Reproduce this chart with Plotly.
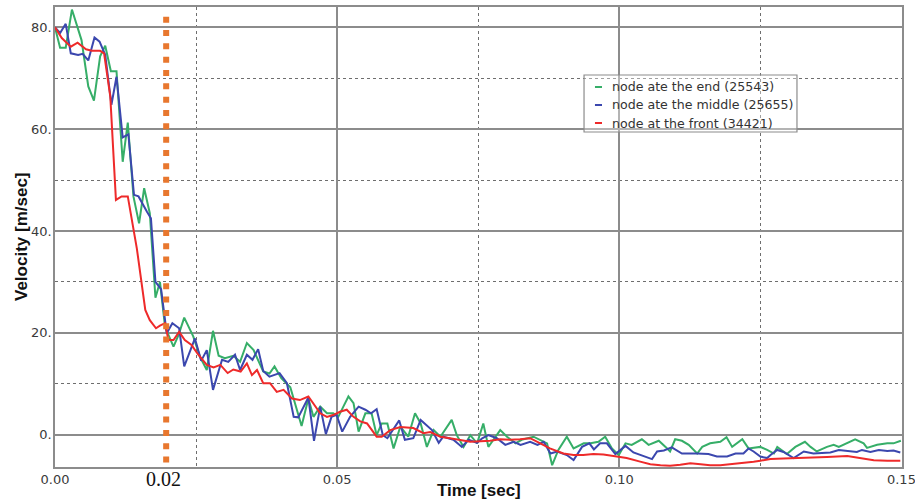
import plotly.graph_objects as go

# ---------------- data ----------------
t_end = [0.0000, 0.0009, 0.0019, 0.0030, 0.0047, 0.0059, 0.0069, 0.0080, 0.0089, 0.0099,
         0.0109, 0.0120, 0.0129, 0.0139, 0.0149, 0.0158, 0.0168, 0.0178, 0.0186, 0.0195,
         0.0201, 0.0210, 0.0219, 0.0229, 0.0245, 0.0257, 0.0269, 0.0280, 0.0290, 0.0301,
         0.0316, 0.0328, 0.0340, 0.0352, 0.0369, 0.0380, 0.0389, 0.0401, 0.0417, 0.0437,
         0.0449, 0.0458, 0.0470, 0.0482, 0.0493, 0.0502, 0.0511, 0.0520, 0.0529, 0.0538,
         0.0550, 0.0561, 0.0570, 0.0579, 0.0589, 0.0600, 0.0612, 0.0626, 0.0638, 0.0648,
         0.0659, 0.0671, 0.0683, 0.0703, 0.0712, 0.0724, 0.0736, 0.0748, 0.0759, 0.0768,
         0.0777, 0.0789, 0.0801, 0.0816, 0.0827, 0.0848, 0.0872, 0.0881, 0.0892, 0.0907,
         0.0919, 0.0937, 0.0949, 0.0963, 0.0975, 0.0987, 0.0999, 0.1011, 0.1022, 0.1040,
         0.1052, 0.1070, 0.1082, 0.1090, 0.1099, 0.1111, 0.1123, 0.1138, 0.1147, 0.1161,
         0.1179, 0.1190, 0.1200, 0.1218, 0.1229, 0.1250, 0.1262, 0.1274, 0.1280, 0.1288,
         0.1297, 0.1312, 0.1329, 0.1339, 0.1350, 0.1368, 0.1380, 0.1389, 0.1404, 0.1418,
         0.1433, 0.1439, 0.1457, 0.1475, 0.1486, 0.1499]
v_end = [80.0, 76.0, 76.0, 83.5, 77.5, 68.4, 65.6, 74.3, 76.4, 71.4,
         71.4, 53.6, 61.3, 46.8, 41.5, 48.4, 43.5, 26.9, 30.0, 21.2,
         19.6, 17.3, 19.6, 23.0, 19.3, 15.3, 12.7, 20.4, 15.5, 15.0,
         15.5, 14.3, 18.0, 16.6, 12.4, 12.0, 13.4, 11.1, 9.3, 1.7,
         7.1, 3.5, 5.5, 4.2, 4.2, 3.5, 5.5, 7.5, 6.2, 0.6,
         4.2, 4.2, -0.1, 2.2, 2.2, -2.7, 1.6, -0.4, 4.2, 2.2,
         -2.4, 0.9, -0.4, 2.9, -0.1, -2.4, -0.1, -1.7, 2.2, -2.4,
         -1.0, 0.9, -0.4, -1.7, -1.0, -0.4, -1.7, -6.0, -3.0, -0.4,
         -2.7, -1.7, -1.7, -1.4, -0.4, -2.7, -4.0, -1.7, -2.0, -0.9,
         -2.0, -1.2, -2.4, -3.3, -0.9, -1.2, -2.0, -3.7, -2.4, -1.7,
         -1.4, -0.5, -2.4, -0.9, -2.7, -2.4, -3.0, -3.7, -2.4, -3.0,
         -3.8, -2.4, -1.4, -2.4, -3.3, -2.4, -2.0, -2.4, -1.6, -0.9,
         -1.7, -2.6, -2.0, -1.7, -1.7, -1.2]

t_middle = [0.0000, 0.0009, 0.0019, 0.0028, 0.0041, 0.0049, 0.0059, 0.0070, 0.0079, 0.0089,
            0.0100, 0.0109, 0.0120, 0.0130, 0.0140, 0.0148, 0.0163, 0.0170, 0.0178, 0.0188,
            0.0198, 0.0208, 0.0220, 0.0229, 0.0248, 0.0259, 0.0269, 0.0280, 0.0296, 0.0307,
            0.0319, 0.0328, 0.0340, 0.0350, 0.0360, 0.0369, 0.0380, 0.0398, 0.0411, 0.0423,
            0.0431, 0.0449, 0.0459, 0.0470, 0.0480, 0.0490, 0.0499, 0.0509, 0.0523, 0.0538,
            0.0550, 0.0560, 0.0570, 0.0581, 0.0589, 0.0599, 0.0610, 0.0620, 0.0635, 0.0648,
            0.0659, 0.0668, 0.0680, 0.0688, 0.0706, 0.0721, 0.0733, 0.0748, 0.0757, 0.0768,
            0.0783, 0.0798, 0.0813, 0.0825, 0.0842, 0.0855, 0.0866, 0.0878, 0.0890, 0.0907,
            0.0919, 0.0934, 0.0947, 0.0955, 0.0966, 0.0978, 0.0993, 0.1011, 0.1025, 0.1046,
            0.1058, 0.1067, 0.1079, 0.1093, 0.1111, 0.1138, 0.1158, 0.1173, 0.1191, 0.1206,
            0.1220, 0.1229, 0.1238, 0.1250, 0.1262, 0.1268, 0.1280, 0.1291, 0.1309, 0.1327,
            0.1344, 0.1359, 0.1374, 0.1389, 0.1404, 0.1421, 0.1430, 0.1445, 0.1460, 0.1475,
            0.1486, 0.1498]
v_middle = [80.0, 78.9, 80.7, 74.9, 74.6, 74.8, 73.5, 78.0, 77.2, 74.6,
            64.8, 70.3, 58.4, 59.0, 47.1, 46.8, 43.8, 42.5, 30.0, 28.6,
            19.9, 21.9, 20.9, 13.4, 18.9, 14.5, 16.6, 8.8, 14.7, 14.3,
            15.7, 12.7, 15.7, 14.7, 16.8, 12.5, 11.4, 12.1, 10.1, 3.5,
            3.4, 7.3, -1.2, 5.5, 0.1, 3.5, 3.9, 0.6, 3.5, 5.5,
            4.9, 4.2, 5.0, -0.1, -0.7, 0.9, 2.8, -1.0, -0.7, 2.9,
            1.9, 0.9, -1.6, -0.4, -1.0, -2.4, -1.0, -1.6, -0.7, -0.1,
            -0.7, -2.0, -1.4, -2.0, -1.4, -2.0, -1.4, -3.7, -3.3, -4.0,
            -5.0, -2.4, -1.7, -2.9, -1.7, -1.7, -3.8, -2.2, -3.5, -4.3,
            -4.8, -3.3, -3.1, -2.5, -3.7, -3.7, -3.8, -4.3, -4.3, -3.7,
            -3.7, -2.7, -3.3, -4.3, -4.6, -4.0, -3.0, -3.4, -4.6, -3.3,
            -3.7, -3.6, -3.5, -3.0, -3.2, -3.4, -3.0, -3.4, -3.0, -3.2,
            -3.1, -3.5]

t_front = [0.0000, 0.0012, 0.0028, 0.0040, 0.0055, 0.0065, 0.0080, 0.0087, 0.0098, 0.0108,
           0.0118, 0.0129, 0.0145, 0.0160, 0.0168, 0.0179, 0.0186, 0.0195, 0.0201, 0.0210,
           0.0220, 0.0230, 0.0242, 0.0254, 0.0269, 0.0281, 0.0293, 0.0306, 0.0316, 0.0329,
           0.0340, 0.0349, 0.0358, 0.0369, 0.0381, 0.0393, 0.0405, 0.0420, 0.0434, 0.0449,
           0.0470, 0.0482, 0.0494, 0.0505, 0.0517, 0.0529, 0.0541, 0.0553, 0.0570, 0.0579,
           0.0594, 0.0612, 0.0635, 0.0653, 0.0665, 0.0683, 0.0700, 0.0718, 0.0736, 0.0754,
           0.0771, 0.0789, 0.0807, 0.0824, 0.0842, 0.0860, 0.0877, 0.0901, 0.0919, 0.0936,
           0.0954, 0.0972, 0.0987, 0.0999, 0.1013, 0.1037, 0.1055, 0.1073, 0.1090, 0.1108,
           0.1126, 0.1144, 0.1161, 0.1179, 0.1197, 0.1220, 0.1238, 0.1250, 0.1268, 0.1291,
           0.1321, 0.1339, 0.1368, 0.1404, 0.1427, 0.1451, 0.1475, 0.1498]
v_front = [80.0, 77.9, 76.2, 77.0, 75.7, 75.4, 75.4, 74.9, 66.4, 46.1,
           46.8, 46.8, 36.6, 24.5, 22.5, 20.9, 21.4, 21.9, 18.6, 18.6,
           20.2, 18.6, 17.6, 15.7, 13.7, 13.2, 13.7, 12.1, 12.8, 12.4,
           14.0, 11.7, 12.7, 10.1, 10.1, 8.4, 8.8, 7.1, 6.8, 7.5,
           4.2, 3.5, 3.9, 4.5, 4.9, 3.5, 2.6, 2.2, -0.4, -0.4,
           0.9, 1.5, 1.3, 0.3, 0.5, -0.4, -0.7, -1.0, -1.4, -1.3,
           -1.2, -0.9, -1.0, -0.9, -0.7, -1.7, -2.7, -3.7, -4.0, -4.0,
           -3.8, -3.9, -4.2, -4.4, -4.6, -5.3, -5.8, -6.0, -6.1, -5.9,
           -5.6, -5.8, -6.0, -6.0, -5.8, -5.6, -5.3, -5.1, -4.8, -4.7,
           -4.6, -4.6, -4.4, -4.2, -4.6, -5.0, -5.1, -5.1]

series_names = ["node ate the end (25543)", "node ate the middle (25655)", "node at the front (34421)"]
series_colors = ["#36AE68", "#3B47AE", "#EE2A2A"]

x_tick_vals = [0.0, 0.05, 0.10, 0.15]
x_tick_text = ["0.00", "0.05", "0.10", "0.15"]
x_minor_vals = [0.025, 0.075, 0.125]
y_tick_vals = [0, 20, 40, 60, 80]
y_tick_text = ["0.", "20.", "40.", "60.", "80."]
y_minor_vals = [10, 30, 50, 70]

marker_time = 0.0197          # orange dotted reference line, labelled 0.02
marker_label = "0.02"
marker_span = (-5.5, 82.1)

x_range = [0.0, 0.1501]
y_range = [-6.35, 84.0]

# ---------------- figure ----------------
fig = go.Figure()
for t, v, name, color in zip([t_end, t_middle, t_front], [v_end, v_middle, v_front],
                             series_names, series_colors):
    fig.add_trace(go.Scatter(x=t, y=v, mode="lines", name=name,
                             line=dict(color=color, width=2), showlegend=False))

fig.add_trace(go.Scatter(x=[marker_time, marker_time], y=[marker_span[1], marker_span[0]],
                         mode="lines", showlegend=False,
                         line=dict(color="#E8772E", width=6, dash="6px,7.33px")))

grid_major = "#8C8C8C"
grid_minor = "#6E6E6E"
tick_font = dict(family="DejaVu Sans", size=13, color="#3A3A3A")

fig.update_xaxes(range=x_range, tickmode="array", tickvals=x_tick_vals, ticktext=x_tick_text,
                 showgrid=True, gridcolor=grid_major, gridwidth=1.5,
                 minor=dict(tickmode="array", tickvals=x_minor_vals, showgrid=True,
                            griddash="dot", gridcolor=grid_minor, gridwidth=1),
                 showline=True, mirror=True, linecolor=grid_major, linewidth=1.5,
                 zeroline=False, ticks="", tickfont=tick_font, automargin=False,
                 ticklabeloverflow="allow")
fig.update_yaxes(range=y_range, tickmode="array", tickvals=y_tick_vals, ticktext=y_tick_text,
                 showgrid=True, gridcolor=grid_major, gridwidth=1.5,
                 minor=dict(tickmode="array", tickvals=y_minor_vals, showgrid=True,
                            griddash="dot", gridcolor=grid_minor, gridwidth=1),
                 showline=True, mirror=True, linecolor=grid_major, linewidth=1.5,
                 zeroline=False, ticks="", tickfont=tick_font, automargin=False,
                 ticklabelstandoff=-1, ticklabeloverflow="allow")

annotations = [
    dict(text="<b>Velocity [m/sec]</b>", xref="paper", yref="paper", x=0, y=0.5,
         xshift=-34, textangle=-90, showarrow=False, xanchor="center", yanchor="middle",
         font=dict(family="Liberation Sans", size=17, color="#111111")),
    dict(text="<b>Time [sec]</b>", xref="paper", yref="paper", x=0.5, y=0,
         yshift=-23, showarrow=False, xanchor="center", yanchor="middle",
         font=dict(family="Liberation Sans", size=17, color="#111111")),
    dict(text=marker_label, xref="x", yref="paper", x=marker_time, y=0,
         yshift=-12, xshift=-3, showarrow=False, xanchor="center", yanchor="middle",
         font=dict(family="Liberation Serif", size=20, color="#111111")),
]

# custom compact legend (short line samples as in the reference)
legend_x0, legend_x1 = 0.6246, 0.8760
legend_y0, legend_y1 = 0.7283, 0.8522
row_y = [0.8261, 0.7870, 0.7478]
shapes = [dict(type="rect", xref="paper", yref="paper", x0=legend_x0, x1=legend_x1,
               y0=legend_y0, y1=legend_y1, line=dict(color="#8C8C8C", width=1.2),
               fillcolor="rgba(255,255,255,0.35)", layer="above")]
for name, color, ry in zip(series_names, series_colors, row_y):
    shapes.append(dict(type="line", xref="paper", yref="paper", x0=0.6375, x1=0.6458,
                       y0=ry, y1=ry, line=dict(color=color, width=2), layer="above"))
    annotations.append(dict(text=name, xref="paper", yref="paper", x=0.6553, y=ry,
                            showarrow=False, xanchor="left", yanchor="middle",
                            font=dict(family="DejaVu Sans", size=12.6, color="#333333")))

fig.update_layout(width=915, height=499, margin=dict(l=55, r=13, t=7, b=32),
                  plot_bgcolor="white", paper_bgcolor="white",
                  showlegend=False, annotations=annotations, shapes=shapes)

fig.write_html("out.html", config={"displayModeBar": False},
               post_script="document.body.style.margin='0';document.body.style.overflow='hidden';")
